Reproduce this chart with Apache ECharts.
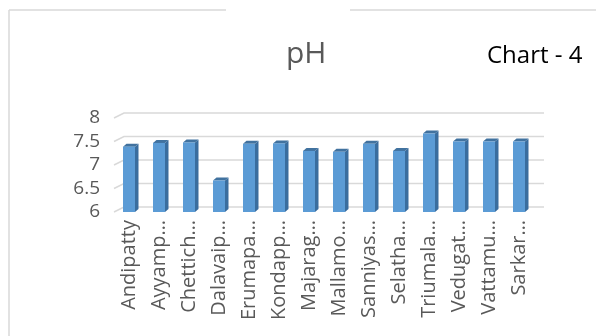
<!DOCTYPE html>
<html>
<head>
<meta charset="utf-8">
<script src="https://cdn.jsdelivr.net/npm/echarts@6/dist/echarts.min.js"></script>
<style>
  html, body { margin: 0; padding: 0; background: #fff; }
  #chart { width: 596px; height: 336px; }
</style>
</head>
<body>
<div id="chart"></div>
<script>
  // labels as printed on the source chart (already shortened there)
  var villages = ['Andipatty', 'Ayyamp…', 'Chettich…', 'Dalavaip…', 'Erumapa…', 'Kondapp…', 'Majarag…',
    'Mallamo…', 'Sanniyas…', 'Selatha…', 'Triumala…', 'Vedugat…', 'Vattamu…', 'Sarkar…']
  var phValues = [7.39, 7.47, 7.48, 6.67, 7.45, 7.46, 7.30, 7.28, 7.45, 7.30, 7.67, 7.50, 7.50, 7.50]
  var yTicks = [6, 6.5, 7, 7.5, 8]

  var depthX = 10, depthY = 5   // back wall offset
  var barDX = 3.5, barDY = 3    // bar depth

  var chart = echarts.init(document.getElementById('chart'))

  function gridItem(params, api) {
    var cs = params.coordSys
    var y = api.coord([0, api.value(0)])[1]
    var x0 = cs.x, x1 = cs.x + cs.width
    return {
      type: 'polyline',
      shape: { points: [[x0, y], [x0 + depthX, y - depthY], [x1 + depthX, y - depthY]] },
      style: { stroke: '#d9d9d9', lineWidth: 1.5, fill: null },
      silent: true
    }
  }

  function barItem(params, api) {
    var top = api.coord([api.value(0), api.value(1)])
    var base = api.coord([api.value(0), yTicks[0]])
    var w = api.size([1, 0])[0] * 0.4
    var l = top[0] - w / 2, r = top[0] + w / 2
    return {
      type: 'group',
      children: [
        {
          type: 'polygon',
          shape: { points: [[r, top[1]], [r + barDX, top[1] - barDY], [r + barDX, base[1] - barDY], [r, base[1]]] },
          style: { fill: '#3a6d9e' }
        },
        {
          type: 'polygon',
          shape: { points: [[l, top[1]], [l + barDX, top[1] - barDY], [r + barDX, top[1] - barDY], [r, top[1]]] },
          style: { fill: '#41729f' }
        },
        {
          type: 'rect',
          shape: { x: l, y: top[1], width: w, height: base[1] - top[1] },
          style: { fill: '#5b9bd5' }
        }
      ]
    }
  }

  var font = '"Open Sans", "Noto Sans", sans-serif'

  var option = {
    animation: false,
    graphic: [
      { type: 'line', shape: { x1: 9, y1: 10, x2: 226, y2: 10 }, style: { stroke: '#d9d9d9', lineWidth: 1.5 } },
      { type: 'line', shape: { x1: 350, y1: 10, x2: 596, y2: 10 }, style: { stroke: '#d9d9d9', lineWidth: 1.5 } },
      { type: 'line', shape: { x1: 9, y1: 10, x2: 9, y2: 336 }, style: { stroke: '#d9d9d9', lineWidth: 1.5 } },
      {
        type: 'text', left: 487, top: 44,
        style: { text: 'Chart - 4', fill: '#000', font: '24px ' + font }
      }
    ],
    title: {
      text: 'pH',
      left: 281,
      top: 34,
      textStyle: { color: '#595959', fontSize: 30, fontWeight: 'normal', fontFamily: font }
    },
    grid: { left: 114, right: 62, top: 118, bottom: 124 },
    xAxis: {
      type: 'category',
      data: villages,
      axisLine: { show: false },
      axisTick: { show: false },
      axisLabel: {
        rotate: 90,
        interval: 0,
        margin: 8,
        color: '#595959',
        fontSize: 20,
        fontFamily: font
      }
    },
    yAxis: {
      type: 'value',
      min: 6,
      max: 8,
      interval: 0.5,
      axisLine: { show: false },
      axisTick: { show: false },
      splitLine: { show: false },
      axisLabel: {
        margin: 14,
        color: '#595959',
        fontSize: 19,
        fontFamily: font
      }
    },
    series: [
      {
        type: 'custom',
        name: 'grid',
        renderItem: gridItem,
        data: yTicks.map(function (v) { return [v] }),
        encode: { y: 0 },
        silent: true,
        z: 1
      },
      {
        type: 'custom',
        name: 'pH',
        renderItem: barItem,
        data: phValues.map(function (v, i) { return [i, v] }),
        encode: { x: 0, y: 1 },
        z: 2
      }
    ]
  }

  chart.setOption(option)
</script>
</body>
</html>
